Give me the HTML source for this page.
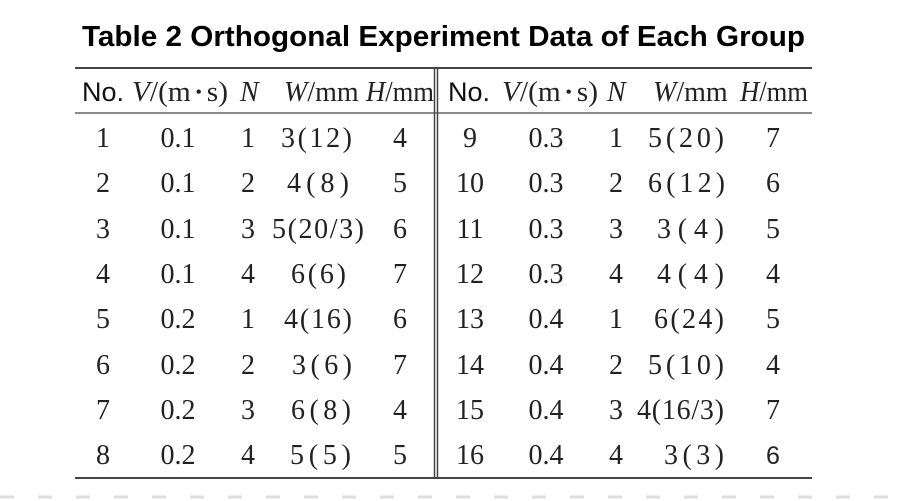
<!DOCTYPE html>
<html><head><meta charset="utf-8"><style>
html,body{margin:0;padding:0;background:#fff;}
svg{display:block;}
.s{font-family:"Liberation Serif",serif;font-size:28px;fill:#222;}
.i{font-style:italic;}
.h{font-family:"Liberation Sans",sans-serif;font-size:27px;fill:#111;}
</style></head><body>
<svg width="900" height="501" viewBox="0 0 900 501" xmlns="http://www.w3.org/2000/svg">
<text x="82" y="46" font-family="Liberation Sans, sans-serif" font-weight="bold" font-size="29" textLength="723" lengthAdjust="spacingAndGlyphs" fill="#000">Table 2 Orthogonal Experiment Data of Each Group</text>
<line x1="75" y1="68" x2="812" y2="68" stroke="#444" stroke-width="2"/>
<line x1="75" y1="113" x2="812" y2="113" stroke="#666" stroke-width="1.5"/>
<line x1="75" y1="478" x2="812" y2="478" stroke="#444" stroke-width="2"/>
<line x1="434.5" y1="68" x2="434.5" y2="478" stroke="#444" stroke-width="1.5"/>
<line x1="437.5" y1="68" x2="437.5" y2="478" stroke="#444" stroke-width="1.5"/>
<line x1="0" y1="497" x2="900" y2="497" stroke="#ddd" stroke-width="3" stroke-dasharray="14 24"/>
<g>
<text class="h" x="82" y="101">No.</text>
<text class="s" x="132" y="101" textLength="96" lengthAdjust="spacingAndGlyphs"><tspan class="i">V</tspan>/(m<tspan font-size="18" dy="-3"> • </tspan><tspan dy="3">s)</tspan></text>
<text class="s i" x="240" y="101">N</text>
<text class="s" x="284" y="101"><tspan class="i">W</tspan>/mm</text>
<text class="s" x="366" y="101" textLength="68" lengthAdjust="spacingAndGlyphs"><tspan class="i">H</tspan>/mm</text>
<text class="h" x="448" y="101">No.</text>
<text class="s" x="502" y="101" textLength="96" lengthAdjust="spacingAndGlyphs"><tspan class="i">V</tspan>/(m<tspan font-size="18" dy="-3"> • </tspan><tspan dy="3">s)</tspan></text>
<text class="s i" x="607" y="101">N</text>
<text class="s" x="653" y="101"><tspan class="i">W</tspan>/mm</text>
<text class="s" x="740" y="101" textLength="68" lengthAdjust="spacingAndGlyphs"><tspan class="i">H</tspan>/mm</text>
</g>
<g class="s" text-anchor="middle">
<text x="103" y="147">1</text><text x="178" y="147">0.1</text><text x="248" y="147">1</text><text x="400" y="147">4</text>
<text x="103" y="192">2</text><text x="178" y="192">0.1</text><text x="248" y="192">2</text><text x="400" y="192">5</text>
<text x="103" y="238">3</text><text x="178" y="238">0.1</text><text x="248" y="238">3</text><text x="400" y="238">6</text>
<text x="103" y="283">4</text><text x="178" y="283">0.1</text><text x="248" y="283">4</text><text x="400" y="283">7</text>
<text x="103" y="328">5</text><text x="178" y="328">0.2</text><text x="248" y="328">1</text><text x="400" y="328">6</text>
<text x="103" y="374">6</text><text x="178" y="374">0.2</text><text x="248" y="374">2</text><text x="400" y="374">7</text>
<text x="103" y="419">7</text><text x="178" y="419">0.2</text><text x="248" y="419">3</text><text x="400" y="419">4</text>
<text x="103" y="464">8</text><text x="178" y="464">0.2</text><text x="248" y="464">4</text><text x="400" y="464">5</text>

<text x="470" y="147">9</text><text x="546" y="147">0.3</text><text x="616" y="147">1</text><text x="773" y="147">7</text>
<text x="470" y="192">10</text><text x="546" y="192">0.3</text><text x="616" y="192">2</text><text x="773" y="192">6</text>
<text x="470" y="238">11</text><text x="546" y="238">0.3</text><text x="616" y="238">3</text><text x="773" y="238">5</text>
<text x="470" y="283">12</text><text x="546" y="283">0.3</text><text x="616" y="283">4</text><text x="773" y="283">4</text>
<text x="470" y="328">13</text><text x="546" y="328">0.4</text><text x="616" y="328">1</text><text x="773" y="328">5</text>
<text x="470" y="374">14</text><text x="546" y="374">0.4</text><text x="616" y="374">2</text><text x="773" y="374">4</text>
<text x="470" y="419">15</text><text x="546" y="419">0.4</text><text x="616" y="419">3</text><text x="773" y="419">7</text>
<text x="470" y="464">16</text><text x="546" y="464">0.4</text><text x="616" y="464">4</text><text x="773" y="464" font-family="Liberation Sans, sans-serif" font-size="25">6</text>
</g>
<g class="s" lengthAdjust="spacing">
<text x="281" y="147" textLength="71">3(12)</text>
<text x="287" y="192" textLength="62">4(8)</text>
<text x="272" y="238" textLength="92">5(20/3)</text>
<text x="291" y="283" textLength="55">6(6)</text>
<text x="284" y="328" textLength="68">4(16)</text>
<text x="292" y="374" textLength="60">3(6)</text>
<text x="291" y="419" textLength="60">6(8)</text>
<text x="290" y="464" textLength="61">5(5)</text>
<text x="648" y="147" textLength="76">5(20)</text>
<text x="648" y="192" textLength="77">6(12)</text>
<text x="657" y="238" textLength="67">3(4)</text>
<text x="657" y="283" textLength="67">4(4)</text>
<text x="654" y="328" textLength="70">6(24)</text>
<text x="648" y="374" textLength="76">5(10)</text>
<text x="637" y="419" textLength="87">4(16/3)</text>
<text x="664" y="464" textLength="60">3(3)</text>
</g>
</svg>
</body></html>
